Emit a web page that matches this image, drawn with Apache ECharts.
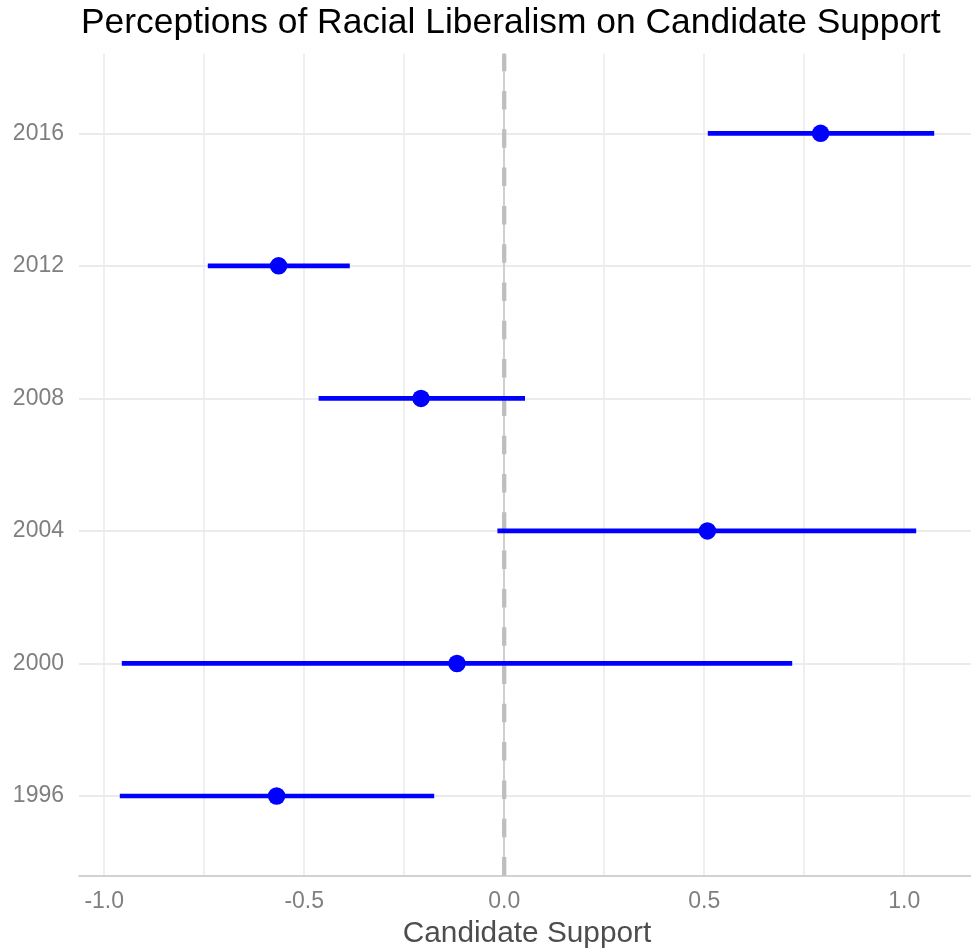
<!DOCTYPE html>
<html>
<head>
<meta charset="utf-8">
<script src="https://cdn.jsdelivr.net/npm/echarts@6/dist/echarts.min.js"></script>
<style>
  html, body { margin: 0; padding: 0; background: #ffffff; overflow: hidden; }
  #chart { width: 971px; height: 949px; }
</style>
</head>
<body>
<div id="chart"></div>
<script>
// Election years, bottom to top
const years = ['1996', '2000', '2004', '2008', '2012', '2016'];
// Point estimates and interval bounds for each year
const estimates = [-0.569, -0.118, 0.508, -0.208, -0.564, 0.791];
const lowerBounds = [-0.961, -0.956, -0.017, -0.464, -0.741, 0.509];
const upperBounds = [-0.175, 0.720, 1.030, 0.052, -0.386, 1.075];
// X axis gridline positions and labelled ticks
const xGridValues = [-1, -0.75, -0.5, -0.25, 0, 0.25, 0.5, 0.75, 1];
const xLabelValues = [-1, -0.5, 0, 0.5, 1];

const yPositions = years.map((_, i) => i + 1);
const xMin = -1.063, xMax = 1.177;
const yMin = 0.4, yMax = 6.6;

const blue = '#0000ff';
const font = 'Liberation Sans, Arial, sans-serif';

const chart = echarts.init(document.getElementById('chart'), null, { renderer: 'canvas', width: 971, height: 949 });

const intervalData = years.map((y, i) => [lowerBounds[i], upperBounds[i], yPositions[i]]);
const pointData = years.map((y, i) => [estimates[i], yPositions[i]]);

chart.setOption({
  animation: false,
  backgroundColor: '#ffffff',
  title: {
    text: 'Perceptions of Racial Liberalism on Candidate Support',
    left: 76,
    top: 1,
    textStyle: { color: '#000000', fontFamily: font, fontSize: 35.4, fontWeight: 'normal' }
  },
  // panel runs slightly past the right edge of the canvas
  grid: { left: 79, top: 53.8, width: 896, height: 821.7, containLabel: false, outerBoundsMode: 'none' },
  xAxis: {
    type: 'value',
    min: xMin,
    max: xMax,
    name: 'Candidate Support',
    nameLocation: 'middle',
    nameGap: 43,
    nameTextStyle: { color: '#4d4d4d', fontFamily: font, fontSize: 29.8 },
    axisLine: { show: true, onZero: false, lineStyle: { color: '#c4c4c4', width: 1.5 } },
    axisTick: { show: false, customValues: xGridValues },
    axisLabel: {
      customValues: xLabelValues,
      color: '#7f7f7f', fontFamily: font, fontSize: 23, margin: 15,
      formatter: v => v.toFixed(1)
    },
    splitLine: { show: true, lineStyle: { color: '#ebebeb', width: 1.6 } }
  },
  yAxis: {
    type: 'value',
    min: yMin,
    max: yMax,
    axisLine: { show: true, lineStyle: { color: '#c4c4c4', width: 1.5 } },
    axisTick: { show: false, customValues: yPositions },
    axisLabel: {
      customValues: yPositions,
      color: '#7f7f7f', fontFamily: font, fontSize: 23, margin: 15,
      formatter: v => years[Math.round(v) - 1]
    },
    splitLine: { show: true, lineStyle: { color: '#ebebeb', width: 2 } }
  },
  series: [
    {
      // zero reference line, drawn bottom to top
      type: 'line',
      data: [[0, yMin], [0, yMax]],
      symbol: 'none',
      silent: true,
      z: 1,
      lineStyle: { color: '#bebebe', width: 4.3, type: [18.5, 19.8] }
    },
    {
      // interval segments
      type: 'custom',
      data: intervalData,
      z: 2,
      renderItem: function (params, api) {
        const a = api.coord([api.value(0), api.value(2)]);
        const b = api.coord([api.value(1), api.value(2)]);
        return {
          type: 'line',
          shape: { x1: a[0], y1: a[1], x2: b[0], y2: b[1] },
          style: { stroke: blue, lineWidth: 4.7, lineCap: 'butt' }
        };
      }
    },
    {
      type: 'scatter',
      data: pointData,
      symbol: 'circle',
      symbolSize: 17.5,
      z: 3,
      itemStyle: { color: blue, opacity: 1 }
    }
  ]
});
</script>
</body>
</html>
